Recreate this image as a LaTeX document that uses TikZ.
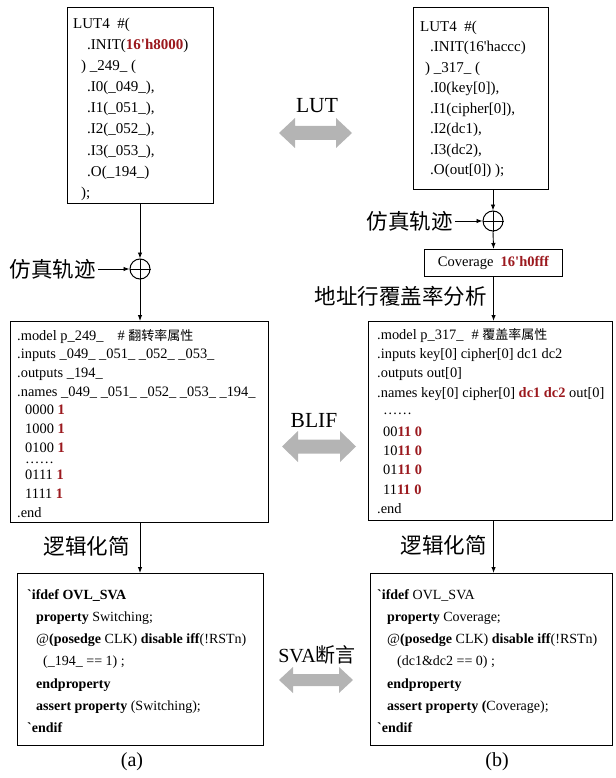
\documentclass[tikz,border=0pt]{standalone}
\usepackage{fontspec}
\setmainfont{Liberation Serif}
\newfontfamily\cjk{Noto Sans CJK SC}
\usetikzlibrary{arrows.meta}
\definecolor{hl}{RGB}{155,25,30}
\definecolor{garrow}{RGB}{180,180,180}
\newcommand\R[1]{\textcolor{hl}{\textbf{#1}}}
\newcommand\cblock[4]{\begin{minipage}[t]{#1}\fontsize{#2}{#3}\selectfont\raggedright #4\end{minipage}}
\newcommand\grayDA[6]{\fill[garrow] (#1,#3) -- ({#1+#6},{#3-#4}) -- ({#1+#6},{#3-#5}) -- ({#2-#6},{#3-#5}) -- ({#2-#6},{#3-#4}) -- (#2,#3) -- ({#2-#6},{#3+#4}) -- ({#2-#6},{#3+#5}) -- ({#1+#6},{#3+#5}) -- ({#1+#6},{#3+#4}) -- cycle;}
\newcommand\cmt[1]{{\cjk\fontsize{13}{13}\selectfont #1}}
\tikzset{
  box/.style={draw, line width=1.1pt, inner sep=0pt, anchor=north west},
  arr/.style={line width=0.9pt, -{Latex[length=6pt,width=4.5pt]}},
  code/.style={anchor=base west, inner sep=0pt},
  xorc/.style={circle, draw, line width=1pt, minimum size=20pt, inner sep=0pt},
  cjklbl/.style={font=\cjk\fontsize{21.5}{21.5}\selectfont, inner sep=2pt},
  lbl/.style={font=\fontsize{21.5}{21.5}\selectfont, inner sep=0pt, anchor=base},
}
\begin{document}
\begin{tikzpicture}[x=1pt,y=-1pt]
\useasboundingbox (0,0) rectangle (615,778);
% boxes
\node[box, minimum width=146pt, minimum height=196pt] (lutA) at (67,7) {};
\node[box, minimum width=135pt, minimum height=182pt] (lutB) at (413,7) {};
\node[box, minimum width=138pt, minimum height=27pt] (cov) at (424,249) {};
\node[box, minimum width=258pt, minimum height=201pt] (blifA) at (10,321) {};
\node[box, minimum width=244pt, minimum height=199pt] (blifB) at (368,321) {};
\node[box, minimum width=246pt, minimum height=172pt] (svaA) at (17,573) {};
\node[box, minimum width=242pt, minimum height=172pt] (svaB) at (370,573) {};
% xor circles
\node[xorc] (xorA) at (140,269) {};
\draw[line width=1pt] (xorA.north) -- (xorA.south) (xorA.west) -- (xorA.east);
\node[xorc] (xorB) at (493,221) {};
\draw[line width=1pt] (xorB.north) -- (xorB.south) (xorB.west) -- (xorB.east);
% labels
\node[cjklbl, anchor=east] (simA) at (98,269) {仿真轨迹};
\node[cjklbl, anchor=east] (simB) at (455,221) {仿真轨迹};
\node[cjklbl, anchor=east] (addr) at (489,296) {地址行覆盖率分析};
\node[cjklbl, anchor=east] (simpA) at (132,546) {逻辑化简};
\node[cjklbl, anchor=east] (simpB) at (489,545) {逻辑化简};
\node[lbl] (lutlbl) at (317,113) {LUT};
\node[lbl] (bliflbl) at (314,427) {BLIF};
\node[lbl, font=\fontsize{20}{20}\selectfont] (svalbl) at (317,662) {SVA{\cjk 断言}};
\node[font=\fontsize{20}{20}\selectfont] (capA) at (132,762) {(a)};
\node[font=\fontsize{20}{20}\selectfont] (capB) at (497,762) {(b)};
% connectors
\draw[arr] (lutA.south -| xorA) -- (xorA.north);
\draw[arr] (xorA.south) -- (xorA.south |- blifA.north);
\draw[arr] (simA.east) -- (xorA.west);
\draw[arr] (blifA.south -| xorA) -- (xorA |- svaA.north);
\draw[arr] (lutB.south -| xorB) -- (xorB.north);
\draw[arr] (xorB.south) -- (cov.north);
\draw[arr] (simB.east) -- (xorB.west);
\draw[arr] (cov.south) -- (cov.south |- blifB.north);
\draw[arr] (blifB.south -| cov) -- (cov |- svaB.north);
% gray double arrows
\grayDA{279}{352}{133}{15}{7}{16}
\grayDA{282}{356}{446.5}{15.5}{7}{16}
\grayDA{279}{353}{680}{13}{6}{14}
% code texts
\node[code] (lutAtxt) at (73,28.5) {\cblock{140pt}{15}{21.1}{%
LUT4\ \ \#(\\
\hspace*{14pt}.INIT(\R{16\textquotesingle h8000})\\
\hspace*{8pt}) \_249\_ (\\
\hspace*{14pt}.I0(\_049\_),\\
\hspace*{14pt}.I1(\_051\_),\\
\hspace*{14pt}.I2(\_052\_),\\
\hspace*{14pt}.I3(\_053\_),\\
\hspace*{14pt}.O(\_194\_)\\
\hspace*{8pt});}};
\node[code] (lutBtxt) at (420,31.5) {\cblock{130pt}{15}{20.5}{%
LUT4\ \ \#(\\
\hspace*{10pt}.INIT(16\textquotesingle haccc)\\
\hspace*{5pt}) \_317\_ (\\
\hspace*{10pt}.I0(key[0]),\\
\hspace*{10pt}.I1(cipher[0]),\\
\hspace*{10pt}.I2(dc1),\\
\hspace*{10pt}.I3(dc2),\\
\hspace*{10pt}.O(out[0]) );}};
\node[anchor=center, font=\fontsize{14.5}{14.5}\selectfont] (covtxt) at (cov.center) {Coverage\ \ \R{16\textquotesingle h0fff}};
\node[code] (blifAtxt) at (17,340) {\cblock{250pt}{14.4}{18.7}{%
.model p\_249\_\hspace{14pt}\# \cmt{翻转率属性}\\
.inputs \_049\_ \_051\_ \_052\_ \_053\_\\
.outputs \_194\_\\
.names \_049\_ \_051\_ \_052\_ \_053\_ \_194\_\\
\hspace*{8pt}0000 \R{1}\\
\hspace*{8pt}1000 \R{1}\\
\hspace*{8pt}0100 \R{1}\\[-7pt]
\hspace*{8pt}……\\[-3pt]
\hspace*{8pt}0111 \R{1}\\
\hspace*{8pt}1111 \R{1}\\
.end}};
\node[code] (blifBtxt) at (377,339) {\cblock{240pt}{14.4}{19.4}{%
.model p\_317\_\hspace{8pt}\# \cmt{覆盖率属性}\\
.inputs key[0] cipher[0] dc1 dc2\\
.outputs out[0]\\
.names key[0] cipher[0] \R{dc1 dc2} out[0]\\[-2pt]
\hspace*{6pt}……\\[2pt]
\hspace*{6pt}00\R{11 0}\\
\hspace*{6pt}10\R{11 0}\\
\hspace*{6pt}01\R{11 0}\\
\hspace*{6pt}11\R{11 0}\\
.end}};
\node[code] (svaAtxt) at (27,599) {\cblock{236pt}{14}{22.3}{%
\textbf{\textasciigrave ifdef OVL\_SVA}\\
\hspace*{9pt}\textbf{property} Switching;\\
\hspace*{9pt}@\textbf{(posedge} CLK) \textbf{disable iff}(!RSTn)\\
\hspace*{16pt}(\_194\_ == 1) ;\\
\hspace*{9pt}\textbf{endproperty}\\
\hspace*{9pt}\textbf{assert property} (Switching);\\
\textbf{\textasciigrave endif}}};
\node[code] (svaBtxt) at (377,599) {\cblock{234pt}{14}{22.3}{%
\textbf{\textasciigrave ifdef} OVL\_SVA\\
\hspace*{10pt}\textbf{property} Coverage;\\
\hspace*{10pt}@\textbf{(posedge} CLK) \textbf{disable iff}(!RSTn)\\
\hspace*{20pt}(dc1\&dc2 == 0) ;\\
\hspace*{10pt}\textbf{endproperty}\\
\hspace*{10pt}\textbf{assert property (}Coverage);\\
\textbf{\textasciigrave endif}}};
\end{tikzpicture}
\end{document}
